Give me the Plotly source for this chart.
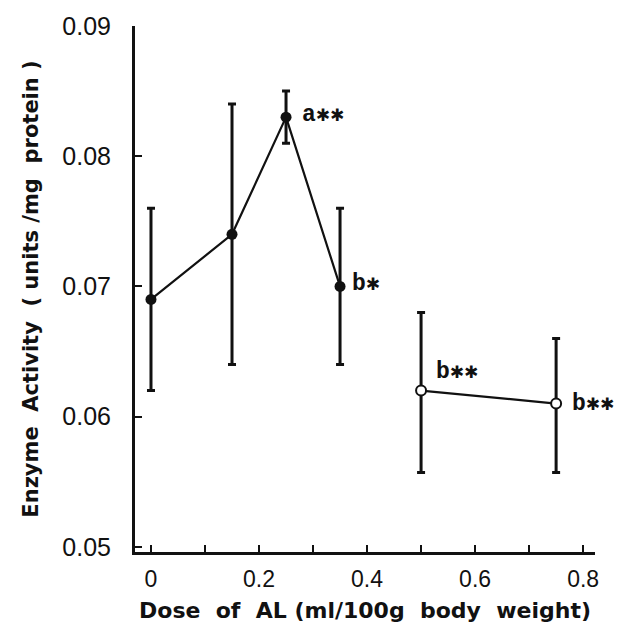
import plotly.graph_objects as go

# Dose groups (ml/100 g body weight) and enzyme activity (units/mg protein)
dose_solid = [0, 0.15, 0.25, 0.35]
mean_solid = [0.069, 0.074, 0.083, 0.070]
upper_solid = [0.076, 0.084, 0.085, 0.076]
lower_solid = [0.062, 0.064, 0.081, 0.064]

dose_open = [0.5, 0.75]
mean_open = [0.062, 0.061]
upper_open = [0.068, 0.066]
lower_open = [0.0557, 0.0557]

# Significance labels next to each point: (dose, activity, letter, stars, dx, dy)
sig_points = [
    (0.25, 0.083, "a", 2, 14, 2),
    (0.35, 0.070, "b", 1, 10, 2),
    (0.5, 0.062, "b", 2, 13, 19),
    (0.75, 0.061, "b", 2, 14, 0),
]

x_tickvals = [0, 0.1, 0.2, 0.3, 0.4, 0.5, 0.6, 0.7, 0.8]
x_ticktext = ["0", "", "0.2", "", "0.4", "", "0.6", "", "0.8"]
y_tickvals = [0.05, 0.06, 0.07, 0.08, 0.09]
y_ticktext = ["0.05", "0.06", "0.07", "0.08", "0.09"]

ink = "#111111"


def err(upper, mean, lower):
    return dict(
        type="data",
        symmetric=False,
        array=[u - m for u, m in zip(upper, mean)],
        arrayminus=[m - l for m, l in zip(mean, lower)],
        color=ink,
        thickness=3,
        width=4,
    )


fig = go.Figure()
fig.add_trace(go.Scatter(
    x=dose_solid, y=mean_solid, mode="lines+markers",
    line=dict(color=ink, width=2.2),
    marker=dict(symbol="circle", size=11, color=ink),
    error_y=err(upper_solid, mean_solid, lower_solid),
    showlegend=False,
))
fig.add_trace(go.Scatter(
    x=dose_open, y=mean_open, mode="lines+markers",
    line=dict(color=ink, width=2.2),
    marker=dict(symbol="circle", size=10, color="white",
                line=dict(color=ink, width=2)),
    error_y=err(upper_open, mean_open, lower_open),
    showlegend=False,
))

for x, y, letter, n, dx, dy in sig_points:
    stars = "<span style='font-family:DejaVu Sans;font-size:17px'>" + "\u2731" * n + "</span>"
    fig.add_annotation(
        x=x, y=y, text="<b>" + letter + "</b>" + stars, showarrow=False,
        xanchor="left", yanchor="middle", xshift=dx, yshift=dy,
        font=dict(family="Liberation Mono", size=23, color=ink),
    )

fig.update_layout(
    width=629, height=633,
    margin=dict(l=135, r=34, t=16, b=81),
    paper_bgcolor="white", plot_bgcolor="white",
    font=dict(family="Liberation Sans", color=ink),
)
fig.update_xaxes(
    range=[-0.0296, 0.822],
    tickvals=x_tickvals, ticktext=x_ticktext,
    ticks="inside", ticklen=7, tickwidth=2, tickcolor=ink,
    showline=True, linewidth=3, linecolor=ink,
    showgrid=False, zeroline=False,
    tickfont=dict(size=23),
    ticklabelstandoff=4,
    title=dict(text="<b>Dose  of  AL (ml/100g  body  weight)</b>",
               font=dict(family="DejaVu Sans", size=22), standoff=13),
)
fig.update_yaxes(
    range=[0.0496, 0.09],
    tickvals=y_tickvals, ticktext=y_ticktext,
    ticks="inside", ticklen=7, tickwidth=2, tickcolor=ink,
    showline=True, linewidth=3, linecolor=ink,
    showgrid=False, zeroline=False,
    tickfont=dict(size=25),
    ticklabelstandoff=16,
    title=dict(text="<b>Enzyme  Activity  ( units /mg  protein )</b>",
               font=dict(family="DejaVu Sans", size=21), standoff=18),
)

fig.write_html("out.html")
